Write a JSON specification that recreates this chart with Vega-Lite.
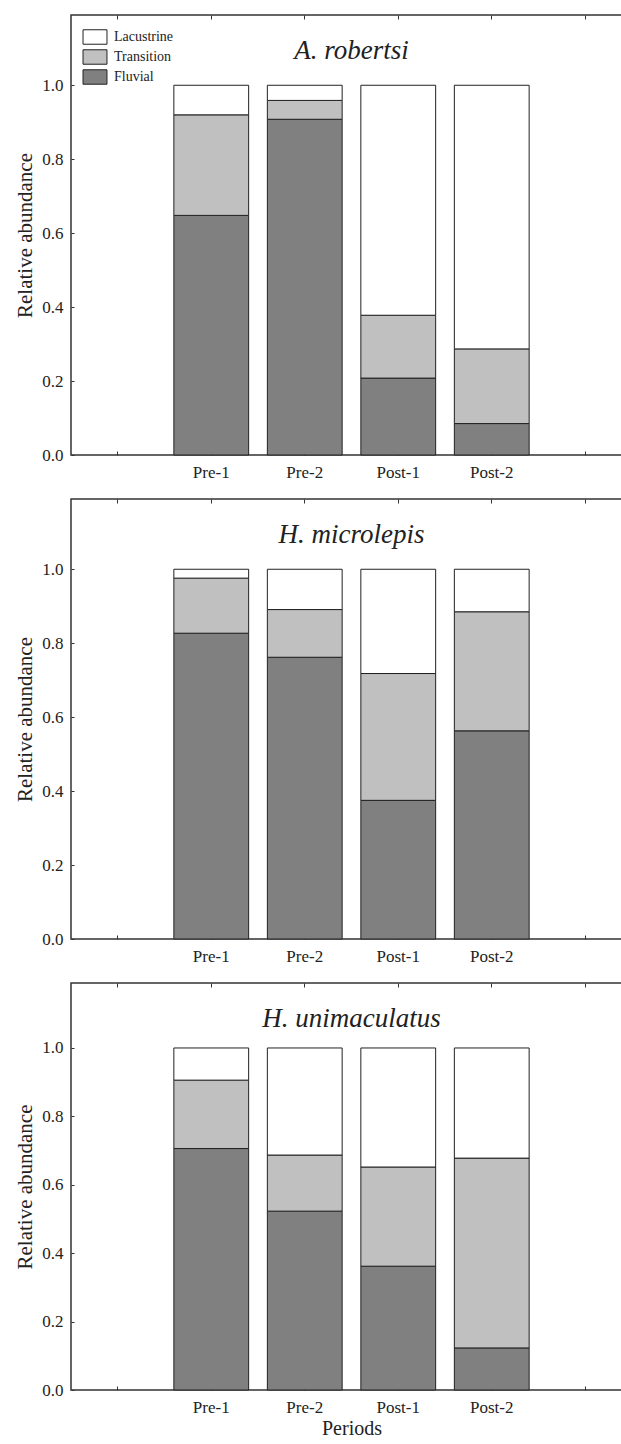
{
  "$schema": "https://vega.github.io/schema/vega-lite/v6.json",
  "padding": {"left": 14, "top": 13, "right": 0, "bottom": 0},
  "background": "white",
  "bounds": "flush",
  "spacing": 44,
  "config": {
    "font": "'Liberation Serif', 'Times New Roman', serif",
    "view": {"stroke": "#333333", "strokeWidth": 1.5},
    "axis": {"grid": false, "domain": false, "tickColor": "#333333", "labelColor": "#222222", "titleColor": "#222222", "labelFont": "'Liberation Serif', 'Times New Roman', serif", "titleFont": "'Liberation Serif', 'Times New Roman', serif", "titleFontWeight": "normal"},
    "legend": {"labelFont": "'Liberation Serif', 'Times New Roman', serif"},
    "title": {"font": "'Liberation Serif', 'Times New Roman', serif", "fontStyle": "italic", "fontWeight": "normal", "fontSize": 27, "color": "#222222", "anchor": "middle", "baseline": "alphabetic", "offset": -50}
  },
  "data": {"values": [
    {"species": "A. robertsi", "period": "Pre-1", "zone": "Fluvial", "value": 0.648},
    {"species": "A. robertsi", "period": "Pre-1", "zone": "Transition", "value": 0.272},
    {"species": "A. robertsi", "period": "Pre-1", "zone": "Lacustrine", "value": 0.080},
    {"species": "A. robertsi", "period": "Pre-2", "zone": "Fluvial", "value": 0.908},
    {"species": "A. robertsi", "period": "Pre-2", "zone": "Transition", "value": 0.051},
    {"species": "A. robertsi", "period": "Pre-2", "zone": "Lacustrine", "value": 0.041},
    {"species": "A. robertsi", "period": "Post-1", "zone": "Fluvial", "value": 0.208},
    {"species": "A. robertsi", "period": "Post-1", "zone": "Transition", "value": 0.170},
    {"species": "A. robertsi", "period": "Post-1", "zone": "Lacustrine", "value": 0.622},
    {"species": "A. robertsi", "period": "Post-2", "zone": "Fluvial", "value": 0.085},
    {"species": "A. robertsi", "period": "Post-2", "zone": "Transition", "value": 0.202},
    {"species": "A. robertsi", "period": "Post-2", "zone": "Lacustrine", "value": 0.713},
    {"species": "H. microlepis", "period": "Pre-1", "zone": "Fluvial", "value": 0.827},
    {"species": "H. microlepis", "period": "Pre-1", "zone": "Transition", "value": 0.149},
    {"species": "H. microlepis", "period": "Pre-1", "zone": "Lacustrine", "value": 0.024},
    {"species": "H. microlepis", "period": "Pre-2", "zone": "Fluvial", "value": 0.762},
    {"species": "H. microlepis", "period": "Pre-2", "zone": "Transition", "value": 0.129},
    {"species": "H. microlepis", "period": "Pre-2", "zone": "Lacustrine", "value": 0.109},
    {"species": "H. microlepis", "period": "Post-1", "zone": "Fluvial", "value": 0.375},
    {"species": "H. microlepis", "period": "Post-1", "zone": "Transition", "value": 0.343},
    {"species": "H. microlepis", "period": "Post-1", "zone": "Lacustrine", "value": 0.282},
    {"species": "H. microlepis", "period": "Post-2", "zone": "Fluvial", "value": 0.563},
    {"species": "H. microlepis", "period": "Post-2", "zone": "Transition", "value": 0.322},
    {"species": "H. microlepis", "period": "Post-2", "zone": "Lacustrine", "value": 0.115},
    {"species": "H. unimaculatus", "period": "Pre-1", "zone": "Fluvial", "value": 0.706},
    {"species": "H. unimaculatus", "period": "Pre-1", "zone": "Transition", "value": 0.200},
    {"species": "H. unimaculatus", "period": "Pre-1", "zone": "Lacustrine", "value": 0.094},
    {"species": "H. unimaculatus", "period": "Pre-2", "zone": "Fluvial", "value": 0.523},
    {"species": "H. unimaculatus", "period": "Pre-2", "zone": "Transition", "value": 0.164},
    {"species": "H. unimaculatus", "period": "Pre-2", "zone": "Lacustrine", "value": 0.313},
    {"species": "H. unimaculatus", "period": "Post-1", "zone": "Fluvial", "value": 0.362},
    {"species": "H. unimaculatus", "period": "Post-1", "zone": "Transition", "value": 0.290},
    {"species": "H. unimaculatus", "period": "Post-1", "zone": "Lacustrine", "value": 0.348},
    {"species": "H. unimaculatus", "period": "Post-2", "zone": "Fluvial", "value": 0.123},
    {"species": "H. unimaculatus", "period": "Post-2", "zone": "Transition", "value": 0.555},
    {"species": "H. unimaculatus", "period": "Post-2", "zone": "Lacustrine", "value": 0.322}
  ]},
  "transform": [{"calculate": "indexof(['Fluvial', 'Transition', 'Lacustrine'], datum.zone)", "as": "stackRank"}],
  "vconcat": [
    {
      "title": {"text": "A. robertsi"},
      "width": 561,
      "height": 440,
      "transform": [{"filter": "datum.species == 'A. robertsi'"}],
      "resolve": {"axis": {"x": "independent"}},
      "layer": [
        {
          "mark": {"type": "bar", "stroke": "#222222", "strokeWidth": 1},
          "encoding": {
            "x": {"field": "period", "type": "nominal", "scale": {"type": "band", "domain": ["s0", "Pre-1", "Pre-2", "Post-1", "Post-2", "s5"], "paddingInner": 0.2, "paddingOuter": 0.1},
              "axis": {"orient": "bottom", "title": null, "labelAngle": 0, "labelFontSize": 17, "tickSize": -4, "labelPadding": 13, "labelExpr": "datum.value == 's0' || datum.value == 's5' ? '' : datum.value"}},
            "y": {"field": "value", "type": "quantitative", "stack": "zero", "scale": {"domain": [0, 1.19], "nice": false},
              "axis": {"title": "Relative abundance", "titleFontSize": 21, "titlePadding": 6, "values": [0, 0.2, 0.4, 0.6, 0.8, 1.0], "format": ".1f", "labelFontSize": 17, "tickSize": -3, "labelPadding": 11}},
            "order": {"field": "stackRank", "type": "quantitative", "sort": "ascending"},
            "color": {"field": "zone", "type": "nominal",
              "scale": {"domain": ["Lacustrine", "Transition", "Fluvial"], "range": ["#ffffff", "#c0c0c0", "#808080"]},
              "legend": {"title": null, "orient": "none", "legendX": 14, "legendY": 12, "symbolType": "M-1.26,-0.76H1.26V0.76H-1.26Z", "symbolSize": 361, "symbolStrokeColor": "#222222", "symbolStrokeWidth": 1, "symbolOpacity": 1, "labelFontSize": 14, "labelColor": "#222222", "labelOffset": 9, "rowPadding": 0}}
          }
        },
        {
          "mark": {"type": "bar", "opacity": 0},
          "encoding": {
            "x": {"field": "period", "type": "nominal", "axis": {"orient": "top", "title": null, "labels": false, "tickSize": -4}}
          }
        }
      ]
    },
    {
      "title": {"text": "H. microlepis"},
      "width": 561,
      "height": 440,
      "transform": [{"filter": "datum.species == 'H. microlepis'"}],
      "resolve": {"axis": {"x": "independent"}},
      "layer": [
        {
          "mark": {"type": "bar", "stroke": "#222222", "strokeWidth": 1},
          "encoding": {
            "x": {"field": "period", "type": "nominal", "scale": {"type": "band", "domain": ["s0", "Pre-1", "Pre-2", "Post-1", "Post-2", "s5"], "paddingInner": 0.2, "paddingOuter": 0.1},
              "axis": {"orient": "bottom", "title": null, "labelAngle": 0, "labelFontSize": 17, "tickSize": -4, "labelPadding": 13, "labelExpr": "datum.value == 's0' || datum.value == 's5' ? '' : datum.value"}},
            "y": {"field": "value", "type": "quantitative", "stack": "zero", "scale": {"domain": [0, 1.19], "nice": false},
              "axis": {"title": "Relative abundance", "titleFontSize": 21, "titlePadding": 6, "values": [0, 0.2, 0.4, 0.6, 0.8, 1.0], "format": ".1f", "labelFontSize": 17, "tickSize": -3, "labelPadding": 11}},
            "order": {"field": "stackRank", "type": "quantitative", "sort": "ascending"},
            "color": {"field": "zone", "type": "nominal",
              "scale": {"domain": ["Lacustrine", "Transition", "Fluvial"], "range": ["#ffffff", "#c0c0c0", "#808080"]},
              "legend": null}
          }
        },
        {
          "mark": {"type": "bar", "opacity": 0},
          "encoding": {
            "x": {"field": "period", "type": "nominal", "axis": {"orient": "top", "title": null, "labels": false, "tickSize": -4}}
          }
        }
      ]
    },
    {
      "title": {"text": "H. unimaculatus"},
      "width": 561,
      "height": 407,
      "transform": [{"filter": "datum.species == 'H. unimaculatus'"}],
      "resolve": {"axis": {"x": "independent"}},
      "layer": [
        {
          "mark": {"type": "bar", "stroke": "#222222", "strokeWidth": 1},
          "encoding": {
            "x": {"field": "period", "type": "nominal", "scale": {"type": "band", "domain": ["s0", "Pre-1", "Pre-2", "Post-1", "Post-2", "s5"], "paddingInner": 0.2, "paddingOuter": 0.1},
              "axis": {"orient": "bottom", "title": "Periods", "titleFontSize": 20, "titlePadding": 3, "labelAngle": 0, "labelFontSize": 17, "tickSize": -4, "labelPadding": 13, "labelExpr": "datum.value == 's0' || datum.value == 's5' ? '' : datum.value"}},
            "y": {"field": "value", "type": "quantitative", "stack": "zero", "scale": {"domain": [0, 1.19], "nice": false},
              "axis": {"title": "Relative abundance", "titleFontSize": 21, "titlePadding": 6, "values": [0, 0.2, 0.4, 0.6, 0.8, 1.0], "format": ".1f", "labelFontSize": 17, "tickSize": -3, "labelPadding": 11}},
            "order": {"field": "stackRank", "type": "quantitative", "sort": "ascending"},
            "color": {"field": "zone", "type": "nominal",
              "scale": {"domain": ["Lacustrine", "Transition", "Fluvial"], "range": ["#ffffff", "#c0c0c0", "#808080"]},
              "legend": null}
          }
        },
        {
          "mark": {"type": "bar", "opacity": 0},
          "encoding": {
            "x": {"field": "period", "type": "nominal", "axis": {"orient": "top", "title": null, "labels": false, "tickSize": -4}}
          }
        }
      ]
    }
  ]
}
